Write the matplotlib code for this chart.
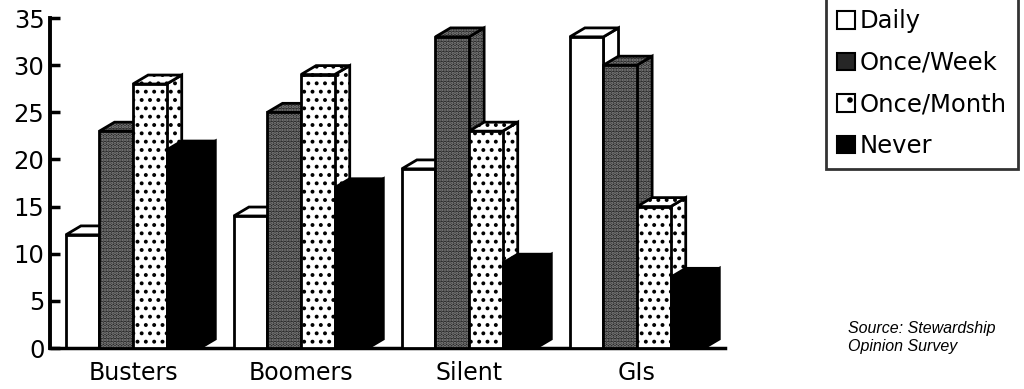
import matplotlib.pyplot as plt
from matplotlib.patches import Polygon, Patch

# survey answers by generation (percent)
categories = ["Busters", "Boomers", "Silent", "GIs"]
daily = [12, 14, 19, 33]
once_week = [23, 25, 33, 30]
once_month = [28, 29, 23, 15]
never = [21, 17, 9, 7.5]
series_names = ["Daily", "Once/Week", "Once/Month", "Never"]

plt.rcParams['hatch.linewidth'] = 1.6

# fill, hatch, hatch colour for front / top / side faces
styles = {
    "Daily":      dict(fc="white",   hatch=None,     hc="black"),
    "Once/Week":  dict(fc="#262626", hatch=".....",  hc="#8a8a8a"),
    "Once/Month": dict(fc="white",   hatch="..",     hc="black"),
    "Never":      dict(fc="black",   hatch=None,     hc="black"),
}

fig = plt.figure(figsize=(10.24, 3.89), dpi=100)
ax = fig.add_axes([50 / 1024, 1 - 348 / 389, 675 / 1024, 330 / 389])

width = 0.2
dx, dy = 0.09, 0.95   # oblique depth of the 3d bars
z = 2


def face(verts, st, zorder):
    # filled/hatched face, then a black outline on top
    if st["hatch"]:
        ax.add_patch(Polygon(verts, closed=True, facecolor=st["fc"],
                             edgecolor=st["hc"], hatch=st["hatch"],
                             linewidth=0, zorder=zorder))
    else:
        ax.add_patch(Polygon(verts, closed=True, facecolor=st["fc"],
                             edgecolor="none", zorder=zorder))
    ax.add_patch(Polygon(verts, closed=True, facecolor="none",
                         edgecolor="black", linewidth=2, zorder=zorder + 0.1,
                         joinstyle="miter"))


data = [daily, once_week, once_month, never]
for g in range(len(categories)):
    for k, name in enumerate(series_names):
        h = data[k][g]
        x0 = g + (k - 2) * width
        x1 = x0 + width
        st = styles[name]
        side = [(x1, 0), (x1 + dx, dy), (x1 + dx, h + dy), (x1, h)]
        top = [(x0, h), (x0 + dx, h + dy), (x1 + dx, h + dy), (x1, h)]
        face(side, st, z)
        face(top, st, z + 0.2)
        # front face through the regular bar call
        if st["hatch"]:
            ax.bar(x0, h, width, align="edge", color=st["fc"],
                   edgecolor=st["hc"], hatch=st["hatch"], linewidth=0,
                   zorder=z + 0.4)
        else:
            ax.bar(x0, h, width, align="edge", color=st["fc"],
                   linewidth=0, zorder=z + 0.4)
        ax.bar(x0, h, width, align="edge", fill=False, edgecolor="black",
               linewidth=2, zorder=z + 0.5)
        z += 1

ax.set_xlim(-83 / 168, 592 / 168)
ax.set_ylim(0, 35)
ax.set_yticks(range(0, 36, 5))
ax.set_xticks(range(len(categories)))
ax.set_xticklabels(categories, fontsize=17)
ax.tick_params(axis="x", length=0, pad=9)
ax.tick_params(axis="y", direction="in", length=7, width=2.5, pad=4,
               labelsize=17.5)
for s in ["top", "right"]:
    ax.spines[s].set_visible(False)
ax.spines["left"].set_linewidth(2.8)
ax.spines["bottom"].set_linewidth(2.5)
ax.spines["left"].set_zorder(100)

handles = []
for name in series_names:
    st = styles[name]
    if name == "Once/Month":
        handles.append(Patch(facecolor="white", edgecolor="black",
                             hatch=".", linewidth=1.5))
    else:
        handles.append(Patch(facecolor=st["fc"], edgecolor="black",
                             linewidth=1.5))
leg = fig.legend(handles, series_names, loc="upper left",
                 bbox_to_anchor=(826 / 1024, 1.004), fontsize=17.5,
                 frameon=True, fancybox=False, edgecolor="black",
                 handlelength=0.75, handleheight=0.75, handletextpad=0.2,
                 labelspacing=0.72, borderpad=0.45, borderaxespad=0)
leg.get_frame().set_linewidth(2)

fig.text(848 / 1024, 1 - 338 / 389, "Source: Stewardship\nOpinion Survey",
         fontsize=11.5, style="italic", family="Liberation Sans",
         va="center", ha="left", linespacing=1.25)

fig.savefig("out.png", dpi=100)
